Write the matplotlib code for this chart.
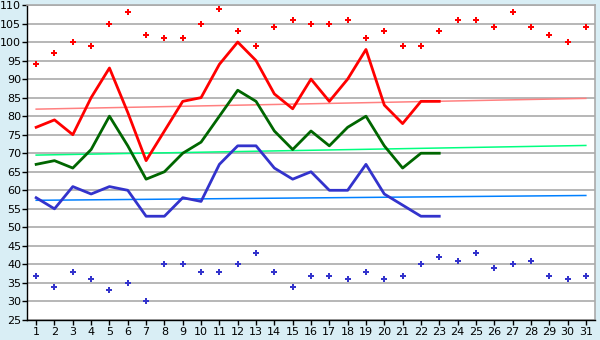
import matplotlib.pyplot as plt
import numpy as np

days = np.arange(1, 32)

# daily extremes (scatter)
max_pts = [94, 97, 100, 99, 105, 108, 102, 101, 101, 105, 109, 103, 99, 104, 106, 105,
           105, 106, 101, 103, 99, 99, 103, 106, 106, 104, 108, 104, 102, 100, 104]
min_pts = [37, 34, 38, 36, 33, 35, 30, 40, 40, 38, 38, 40, 43, 38, 34, 37,
           37, 36, 38, 36, 37, 40, 42, 41, 43, 39, 40, 41, 37, 36, 37]

# lines (only through day 23)
red_line = [77, 79, 75, 85, 93, 81, 68, 76, 84, 85, 94, 100, 95, 86, 82, 90,
            84, 90, 98, 83, 78, 84, 84]
green_line = [67, 68, 66, 71, 80, 72, 63, 65, 70, 73, 80, 87, 84, 76, 71, 76,
              72, 77, 80, 72, 66, 70, 70]
blue_line = [58, 55, 61, 59, 61, 60, 53, 53, 58, 57, 67, 72, 72, 66, 63, 65,
             60, 60, 67, 59, 56, 53, 53]

# trend lines: value at day 1 and day 31
red_trend = [81.9, 84.8]
green_trend = [69.5, 72.1]
blue_trend = [57.3, 58.6]

bg = '#d9eef5'
grey = '#aaaaaa'

fig = plt.figure(figsize=(6, 3.4), dpi=100, facecolor=bg)
ax = fig.add_axes([27 / 600, 20 / 340, 568 / 600, 315 / 340])
ax.set_facecolor('white')

for t, c in [(red_trend, '#ff8080'), (green_trend, '#00ff80'), (blue_trend, '#0080ff')]:
    ax.plot([1, 31], t, color=c, lw=1.1, zorder=2)

d23 = days[:len(red_line)]
ax.plot(d23, red_line, color='#ff0000', lw=2, zorder=3)
ax.plot(d23, green_line, color='#006600', lw=2, zorder=3)
ax.plot(d23, blue_line, color='#3333cc', lw=2, zorder=3)

ax.plot(days, max_pts, 'P', color='#ff0000', ms=4.6, mew=0, ls='none', zorder=4)
ax.plot(days, min_pts, 'P', color='#3333cc', ms=4.6, mew=0, ls='none', zorder=4)

ax.set_xlim(0.5, 31.5)
ax.set_ylim(25, 110)
ax.set_xticks(days)
ax.set_yticks(np.arange(25, 111, 5))
ax.yaxis.grid(True, color=grey, lw=1.2)
ax.set_axisbelow(True)
for s in ax.spines.values():
    s.set_color(grey)
    s.set_linewidth(1.2)
ax.spines['left'].set_color('#000000')
ax.spines['left'].set_linewidth(1)
ax.spines['bottom'].set_color('#000000')
ax.spines['bottom'].set_linewidth(1)
ax.tick_params(axis='y', labelsize=8, length=3.6, width=1, color='black', pad=0.5)
ax.tick_params(axis='x', labelsize=8, length=3.6, width=1, color='black', pad=1.5)

fig.savefig('out.png', dpi=100, facecolor=bg)
